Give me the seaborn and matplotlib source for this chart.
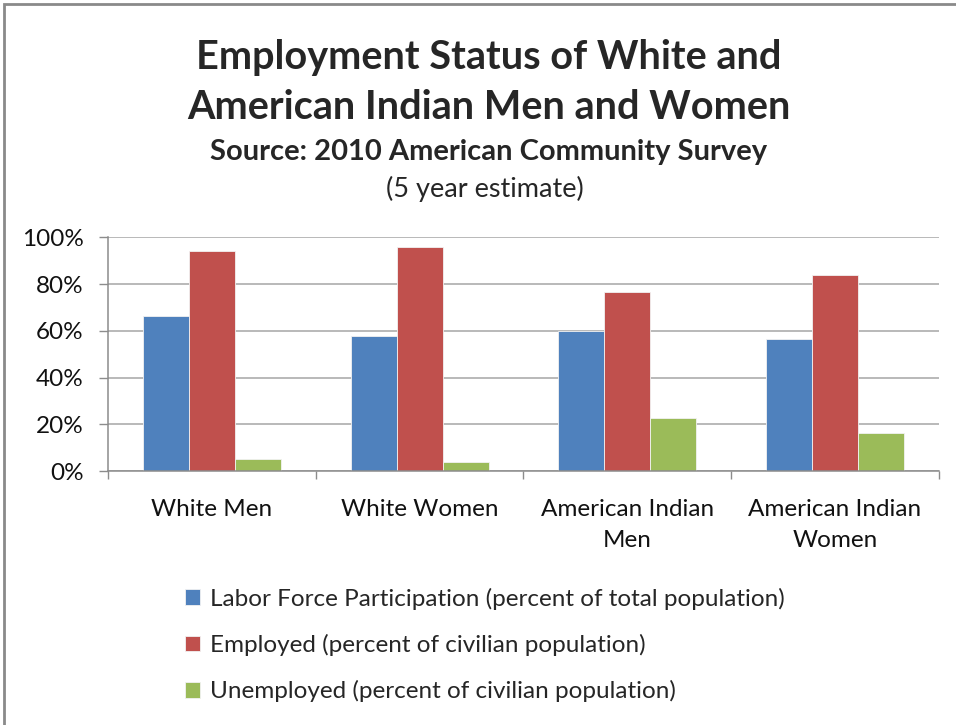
import pandas as pd
import matplotlib.pyplot as plt
import seaborn as sns
from matplotlib.patches import Rectangle
from matplotlib.ticker import PercentFormatter

groups = ['White Men', 'White Women', 'American Indian\nMen', 'American Indian\nWomen']
series = ['Labor Force Participation (percent of total population)',
          'Employed (percent of civilian population)',
          'Unemployed (percent of civilian population)']
labor_force = [66.2, 58.0, 60.1, 56.4]
employed = [94.0, 95.7, 76.5, 83.8]
unemployed = [5.4, 3.9, 22.9, 16.4]
colors = ['#4F81BD', '#C0504D', '#9BBB59']

df = pd.DataFrame({
    'group': groups * 3,
    'series': [series[0]] * 4 + [series[1]] * 4 + [series[2]] * 4,
    'value': labor_force + employed + unemployed,
})

sns.set_style('white')
plt.rcParams['font.family'] = ['Lato', 'DejaVu Sans']

fig = plt.figure(figsize=(9.56, 7.25), dpi=100)
ax = fig.add_axes([0.113, 0.35, 0.869, 0.3228])

sns.barplot(data=df, x='group', y='value', hue='series', palette=colors,
            saturation=1, width=0.665, edgecolor='#f2f2f2', linewidth=0.6,
            ax=ax, legend=True)

ax.set_ylim(0, 100)
ax.set_xlim(-0.5, 3.5)
ax.set_yticks(range(0, 101, 20))
ax.yaxis.set_major_formatter(PercentFormatter(decimals=0))
ax.grid(axis='y', color='#a6a6a6', linewidth=1.1)
ax.set_axisbelow(True)
ax.set_xlabel('')
ax.set_ylabel('')

for side in ['top', 'right']:
    ax.spines[side].set_visible(False)
for side in ['left', 'bottom']:
    ax.spines[side].set_color('#8c8c8c')
    ax.spines[side].set_linewidth(1.1)

ax.tick_params(axis='y', direction='out', length=6.5, width=1, color='#8c8c8c',
               pad=11, labelsize=17.5, labelcolor='#111111', left=True)
ax.tick_params(axis='x', which='major', length=0, pad=20, labelsize=17.5,
               labelcolor='#111111')
ax.set_xticks([-0.5, 0.5, 1.5, 2.5, 3.5], minor=True)
ax.tick_params(axis='x', which='minor', direction='out', length=6, width=1,
               color='#8c8c8c', bottom=True)
for lab in ax.get_xticklabels():
    lab.set_linespacing(1.6)

handles, labels = ax.get_legend_handles_labels()
ax.get_legend().remove()
fig.legend(handles, labels, loc='upper left', bbox_to_anchor=(0.183, 0.203),
           frameon=False, fontsize=17.5, handlelength=0.65, handleheight=0.6,
           handletextpad=0.4, labelspacing=1.0, borderaxespad=0)

fig.text(0.511, 0.92, 'Employment Status of White and', ha='center', va='center',
         fontsize=28.5, fontweight='bold')
fig.text(0.511, 0.852, 'American Indian Men and Women', ha='center', va='center',
         fontsize=28.5, fontweight='bold')
fig.text(0.511, 0.79, 'Source: 2010 American Community Survey', ha='center',
         va='center', fontsize=21, fontweight='bold')
fig.text(0.507, 0.739, '(5 year estimate)', ha='center', va='center', fontsize=19.5)

fig.patches.append(Rectangle((4 / 956, -0.05), 1.0, 1 - 4 / 725 + 0.05,
                             transform=fig.transFigure, fill=False,
                             edgecolor='#8a8a8a', linewidth=2))

fig.savefig('out.png', dpi=100)
